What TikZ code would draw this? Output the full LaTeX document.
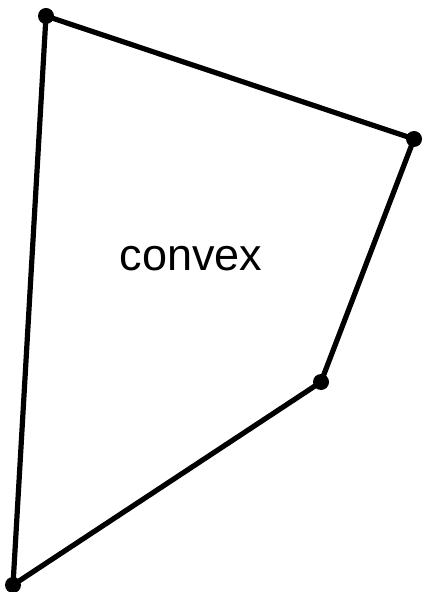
\documentclass[tikz,border=0pt]{standalone}
\usepackage{fontspec}
\setmainfont{Liberation Sans}
\begin{document}
\begin{tikzpicture}[x=0.5pt, y=-0.5pt, line join=round, line cap=round]
        \tikzset{vertex/.style={circle, fill=black, inner sep=0pt, minimum size=8pt},
                 edge/.style={line width=2.6pt, black}}
        \useasboundingbox (0, 0) rectangle (423, 592);

        % Corners of the polygon
        \node[vertex] (pa) at (46, 16) {};
        \node[vertex] (pb) at (414, 139) {};
        \node[vertex] (pc) at (321, 382) {};
        \node[vertex] (pd) at (13, 585) {};

        % Sides
        \draw[edge] (pa.center) -- (pb.center) -- (pc.center) -- (pd.center) -- cycle;

        \node[font=\fontsize{22.5}{26}\selectfont] (label) at (191, 259) {convex};
    \end{tikzpicture}
\end{document}
